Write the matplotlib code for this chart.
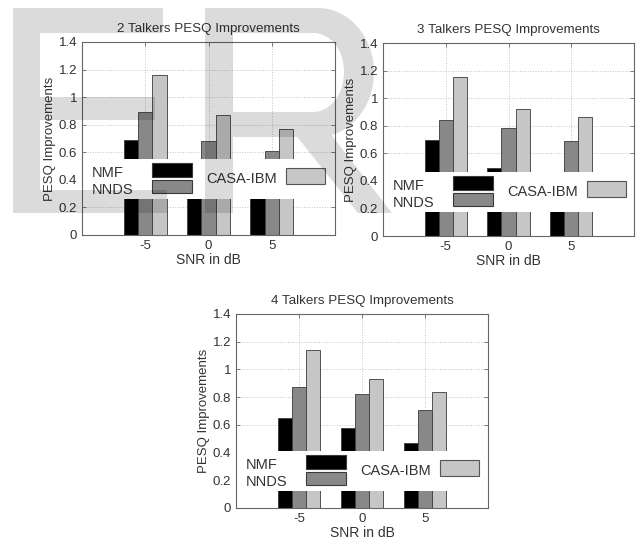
import matplotlib
matplotlib.use("Agg")
import matplotlib.pyplot as plt
import numpy as np
from matplotlib.patches import Rectangle, PathPatch
from matplotlib.path import Path
from matplotlib.transforms import Affine2D

plt.rcParams['font.family'] = ['Liberation Sans', 'DejaVu Sans']

# data
snr = [-5, 0, 5]
methods = ['NMF', 'NNDS', 'CASA-IBM']
titles = ['2 Talkers PESQ Improvements', '3 Talkers PESQ Improvements',
          '4 Talkers PESQ Improvements']
nmf = [[0.69, 0.50, 0.45], [0.70, 0.49, 0.40], [0.65, 0.58, 0.47]]
nnds = [[0.89, 0.68, 0.61], [0.84, 0.78, 0.69], [0.87, 0.82, 0.71]]
casa = [[1.16, 0.87, 0.77], [1.15, 0.92, 0.86], [1.14, 0.93, 0.84]]
ytick_vals = [0, 0.2, 0.4, 0.6, 0.8, 1.0, 1.2, 1.4]
ytick_labels = ['0', '0.2', '0.4', '0.6', '0.8', '1', '1.2', '1.4']
legend_bottom = [0.26, 0.176, 0.12]   # where the white legend box sits (data units)

W, H = 636, 540
fig = plt.figure(figsize=(W / 100, H / 100), dpi=100)
fig.patch.set_facecolor('white')

# axes boxes in pixels: left, top, right, bottom
boxes = [(82, 42, 335, 235), (383, 43, 634, 236), (236, 314, 488, 508)]
colors = ['#000000', '#888888', '#c6c6c6']
frame = '#666666'
txt = '#333333'
bw = 1.12

for i, (l, t, r, b) in enumerate(boxes):
    ax = fig.add_axes([l / W, 1 - b / H, (r - l) / W, (b - t) / H])
    ax.set_facecolor('none')
    ax.set_axisbelow(True)
    x = np.array(snr, dtype=float)
    for k, vals in enumerate([nmf[i], nnds[i], casa[i]]):
        ax.bar(x + (k - 1) * bw, vals, width=bw, color=colors[k],
               edgecolor='#3a3a3a', linewidth=0.6, zorder=1)
    ax.set_xlim(-10, 10)
    ax.set_ylim(0, 1.4)
    ax.set_xticks(snr)
    ax.set_xticklabels([str(s) for s in snr])
    ax.set_yticks(ytick_vals)
    ax.set_yticklabels(ytick_labels)
    ax.grid(True, linestyle=':', color='#c4c4c4', linewidth=0.7)
    ax.tick_params(direction='in', length=3, width=0.6, color=frame,
                   top=True, right=True, labelsize=9.5, labelcolor=txt, pad=3.5)
    for sp in ax.spines.values():
        sp.set_color(frame)
        sp.set_linewidth(0.8)
    ax.set_title(titles[i], fontsize=9.6, color=txt, pad=7)
    ax.set_xlabel('SNR in dB', fontsize=10, color=txt, labelpad=1)
    ax.set_ylabel('PESQ Improvements', fontsize=9.5, color=txt, labelpad=2)

    # legend drawn by hand: white band across the axes
    aw, ah = r - l, b - t
    top = (legend_bottom[i] + 0.29) / 1.4
    ax.add_patch(Rectangle((0, legend_bottom[i] / 1.4), 1, 0.29 / 1.4,
                           transform=ax.transAxes, facecolor='white',
                           edgecolor='none', zorder=2))

    def fx(px):
        return px / aw

    def fy(px):
        return top - px / ah

    ax.text(fx(10), fy(14), methods[0], transform=ax.transAxes, fontsize=10.5,
            color=txt, va='center', ha='left', zorder=2.3)
    ax.text(fx(10), fy(31), methods[1], transform=ax.transAxes, fontsize=10.5,
            color=txt, va='center', ha='left', zorder=2.3)
    ax.text(fx(124), fy(20), methods[2], transform=ax.transAxes, fontsize=10.5,
            color=txt, va='center', ha='left', zorder=2.3)
    ax.add_patch(Rectangle((fx(70), fy(18)), fx(40), 14 / ah, transform=ax.transAxes,
                           facecolor=colors[0], edgecolor='#3a3a3a', linewidth=0.8, zorder=2.2))
    ax.add_patch(Rectangle((fx(70), fy(34)), fx(40), 13 / ah, transform=ax.transAxes,
                           facecolor=colors[1], edgecolor='#3a3a3a', linewidth=0.8, zorder=2.2))
    ax.add_patch(Rectangle((fx(204), fy(25)), fx(39), 16 / ah, transform=ax.transAxes,
                           facecolor=colors[2], edgecolor='#555555', linewidth=0.8, zorder=2.2))

# "ER" watermark laid over the top of the figure (pixel coords, y down)
to_fig = Affine2D().scale(1 / W, -1 / H).translate(0, 1) + fig.transFigure
M, L, C, Z = Path.MOVETO, Path.LINETO, Path.CURVE4, Path.CLOSEPOLY
e_verts = [(13, 8), (163, 8), (163, 33), (40, 33), (40, 97), (155, 97), (155, 120),
           (40, 120), (40, 190), (167, 190), (167, 213), (13, 213), (13, 8)]
e_codes = [M] + [L] * 11 + [Z]
r_verts = [(205, 213), (205, 8), (318, 8), (349, 8), (374, 37), (374, 72),
           (374, 108), (349, 137), (318, 137), (233, 137), (233, 213), (205, 213),
           (233, 33), (233, 112), (313, 112), (330, 112), (344, 95), (344, 72),
           (344, 49), (330, 33), (313, 33), (233, 33),
           (290, 128), (326, 128), (392, 213), (358, 213), (290, 128)]
r_codes = [M, L, L, C, C, C, C, C, C, L, L, Z,
           M, L, L, C, C, C, C, C, C, Z,
           M, L, L, L, Z]
for verts, codes in [(e_verts, e_codes), (r_verts, r_codes)]:
    wm = PathPatch(Path(verts, codes), transform=to_fig, facecolor='black',
                   edgecolor='none', alpha=0.14, zorder=10)
    fig.patches.append(wm)

fig.savefig('out.png', dpi=100)
